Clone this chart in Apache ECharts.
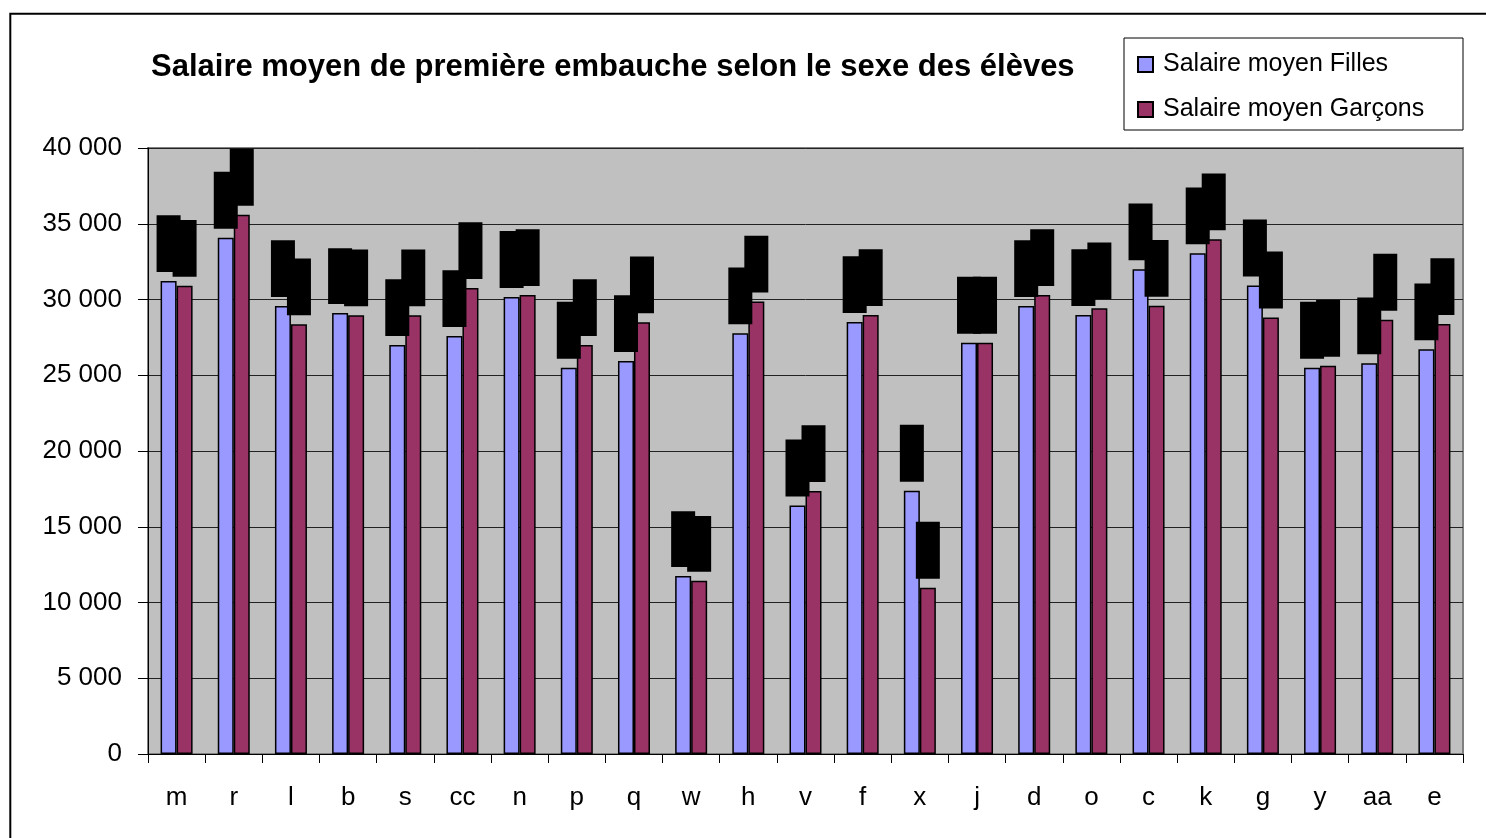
<!DOCTYPE html>
<html>
<head>
<meta charset="utf-8">
<script src="https://cdn.jsdelivr.net/npm/echarts@6/dist/echarts.min.js"></script>
<style>
html,body{margin:0;padding:0;background:#fff;}
#chart{width:1486px;height:838px;}
</style>
</head>
<body>
<div id="chart"></div>
<script>
var categories = ['m','r','l','b','s','cc','n','p','q','w','h','v','f','x','j','d','o','c','k','g','y','aa','e'];
var filles   = [31220,34080,29570,29110,27000,27590,30170,25500,25940,11750,27770,16410,28510,17380,27150,29570,28980,31990,33050,30930,25500,25790,26710];
var garcons  = [30900,35600,28360,28960,28960,30760,30300,27000,28500,11440,29860,17360,28980,10980,27150,30300,29420,29590,33970,28820,25630,28670,28380];
var yTicks = { min: 0, max: 40000, interval: 5000 };
var titleText = 'Salaire moyen de première embauche selon le sexe des élèves';
var seriesNames = ['Salaire moyen Filles', 'Salaire moyen Garçons'];

function fmt(v){
  return String(Math.round(v)).replace(/\B(?=(\d{3})+(?!\d))/g, ' ');
}
var FONT = 'Liberation Sans, Arial, sans-serif';
var labelCfg = {
  show: true, position: 'top', distance: 9, rotate: 90,
  align: 'left', verticalAlign: 'middle',
  formatter: function(p){ return fmt(p.value); },
  color: '#000', backgroundColor: '#000',
  fontSize: 14, lineHeight: 16, padding: [4, 7], fontFamily: FONT
};

var chart = echarts.init(document.getElementById('chart'));
chart.setOption({
  animation: false,
  backgroundColor: '#fff',
  title: {
    text: titleText, left: 146, top: 47,
    textStyle: { fontFamily: FONT, fontSize: 31, fontWeight: 'bold', color: '#000' }
  },
  legend: {
    orient: 'vertical', left: 1124, top: 38,
    padding: [14, 10, 8, 13],
    itemWidth: 15, itemHeight: 15, itemGap: 20,
    icon: 'rect',
    backgroundColor: '#fff', borderColor: '#000', borderWidth: 1,
    selectedMode: false,
    textStyle: { fontFamily: FONT, fontSize: 25, lineHeight: 25, color: '#000', width: 290, padding: [0,0,0,5] },
    data: seriesNames
  },
  grid: {
    left: 148, right: 23, top: 148, bottom: 84,
    show: true, backgroundColor: '#C0C0C0', borderColor: '#808080', borderWidth: 2
  },
  xAxis: {
    type: 'category', data: categories,
    axisLine: { lineStyle: { color: '#000', width: 1 } },
    axisTick: { show: true, length: 9, lineStyle: { color: '#000' } },
    axisLabel: { color: '#000', fontFamily: FONT, fontSize: 26, margin: 31 }
  },
  yAxis: {
    type: 'value', min: yTicks.min, max: yTicks.max, interval: yTicks.interval,
    axisLine: { show: true, lineStyle: { color: '#000', width: 1 } },
    axisTick: { show: true, length: 10, lineStyle: { color: '#000' } },
    axisLabel: { color: '#000', fontFamily: FONT, fontSize: 26, margin: 26, formatter: function(v){ return fmt(v); } },
    splitLine: { show: true, lineStyle: { color: '#222', width: 1 } }
  },
  series: [
    { name: seriesNames[0], type: 'bar', data: filles, barWidth: 16, barGap: '0%',
      itemStyle: { color: '#9999FF', borderColor: '#000', borderWidth: 1.5 }, label: labelCfg },
    { name: seriesNames[1], type: 'bar', data: garcons, barWidth: 16, barGap: '0%',
      itemStyle: { color: '#993366', borderColor: '#000', borderWidth: 1.5 }, label: labelCfg }
  ],
  graphic: [
    { type: 'rect', silent: true, z: 100,
      shape: { x: 10.3, y: 13.7, width: 1500, height: 900 },
      style: { fill: 'none', stroke: '#000', lineWidth: 2 } }
  ]
});
</script>
</body>
</html>
